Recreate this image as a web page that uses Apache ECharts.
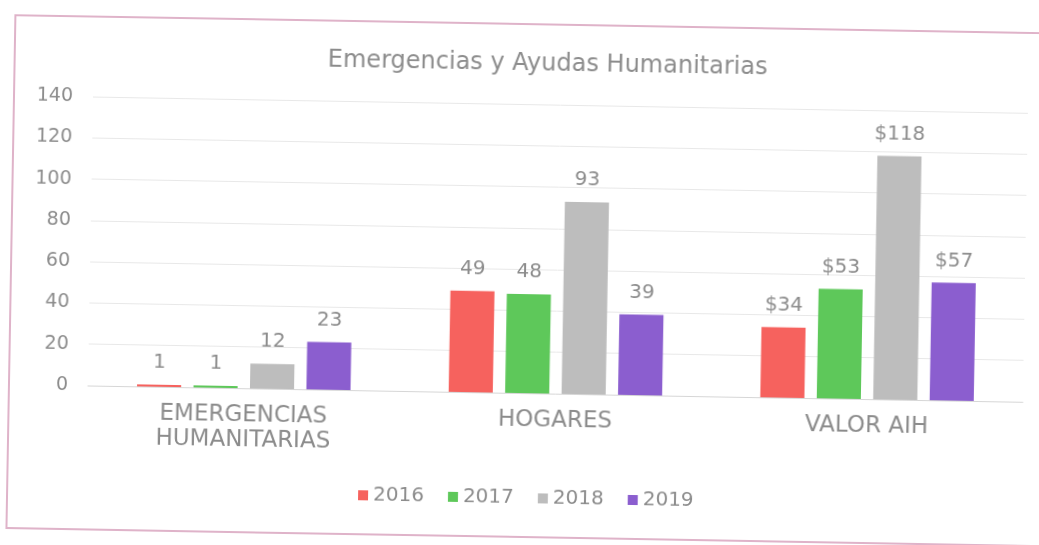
<!DOCTYPE html>
<html><head><meta charset="utf-8">
<script src="https://cdn.jsdelivr.net/npm/echarts@6/dist/echarts.min.js"></script>
<style>
html,body{margin:0;padding:0;background:#fff;overflow:hidden;}
#wrap{position:absolute;left:0;top:0;width:1039px;height:545px;transform:rotate(1deg);transform-origin:519.5px 272.5px;}
#frame{position:absolute;left:10px;top:23px;width:1060px;height:515px;border:2px solid #dfb3c9;box-sizing:border-box;}
#c{position:absolute;left:0;top:0;width:1039px;height:545px;}
</style></head>
<body>
<div id="wrap">
<div id="frame"></div>
<div id="c"></div>
</div>
<script>
const categories = ['EMERGENCIAS\nHUMANITARIAS', 'HOGARES', 'VALOR AIH'];
const years = ['2016', '2017', '2018', '2019'];
const v2016 = [1, 49, 34];
const v2017 = [1, 48, 53];
const v2018 = [12, 93, 118];
const v2019 = [23, 39, 57];
const yTicks = [0, 20, 40, 60, 80, 100, 120, 140];
const colors = ['#f6625e', '#5ec85a', '#bdbdbd', '#8b5ecf'];

const FONT = 'DejaVu Sans';
const TXT = '#8c8c8c';
const chart = echarts.init(document.getElementById('c'));
const seriesData = [v2016, v2017, v2018, v2019];
chart.setOption({
  animation: false,
  title: {
    text: 'Emergencias y Ayudas Humanitarias',
    left: 539, top: 47, textAlign: 'center',
    textStyle: {fontFamily: FONT, fontSize: 24, fontWeight: 'normal', color: TXT}
  },
  legend: {
    data: years, top: 488, left: 362,
    itemWidth: 10, itemHeight: 10, itemGap: 24, icon: 'rect',
    textStyle: {fontFamily: FONT, fontSize: 20, color: TXT},
    padding: 0
  },
  grid: {left: 90, right: 14, top: 104, bottom: 152},
  xAxis: {
    type: 'category', data: categories,
    axisLine: {lineStyle: {color: '#d6d6d6'}}, axisTick: {show: false},
    axisLabel: {fontFamily: FONT, fontSize: 23, color: TXT, margin: 15, lineHeight: 25}
  },
  yAxis: {
    type: 'value', min: yTicks[0], max: yTicks[yTicks.length - 1], interval: 20,
    axisLine: {show: false}, axisTick: {show: false},
    axisLabel: {fontFamily: FONT, fontSize: 19, color: TXT, margin: 20},
    splitLine: {lineStyle: {color: '#e8e8e8'}}
  },
  series: seriesData.map((d, i) => ({
    name: years[i], type: 'bar', data: d,
    itemStyle: {color: colors[i]},
    barGap: '28%', barCategoryGap: '31.5%',
    label: {
      show: true, position: 'top', distance: 12,
      fontFamily: FONT, fontSize: 20, color: TXT,
      formatter: p => (p.dataIndex === 2 ? '$' : '') + p.value
    }
  }))
});
</script>
</body></html>
